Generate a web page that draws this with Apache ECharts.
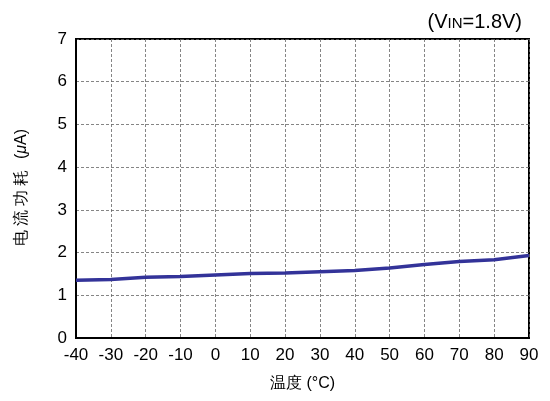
<!DOCTYPE html>
<html><head><meta charset="utf-8">
<script src="https://cdn.jsdelivr.net/npm/echarts@6/dist/echarts.min.js"></script>
<style>html,body{margin:0;padding:0;background:#fff}#c{width:550px;height:401px}</style>
</head><body><div id="c"></div>
<script>
var temps = [-40,-30,-20,-10,0,10,20,30,40,50,60,70,80,90];
var current = [1.35,1.37,1.42,1.44,1.475,1.51,1.52,1.55,1.58,1.64,1.72,1.79,1.83,1.93];
var chart = echarts.init(document.getElementById('c'));
var font = 'Liberation Sans, Arial, sans-serif';
chart.setOption({
  animation:false,
  title:{text:'(V{s|IN}=1.8V)', right:23, top:7,
    textStyle:{fontFamily:font,fontSize:20,fontWeight:'normal',color:'#000',
      rich:{s:{fontFamily:font,fontSize:15,color:'#000',verticalAlign:'bottom',padding:[0,0,1,0]}}}},
  grid:{left:76,right:21,top:39,bottom:63,show:true,borderColor:'#000',borderWidth:2},
  xAxis:{type:'value',min:-40,max:90,interval:10,
    name:'温度 (°C)',nameLocation:'middle',nameGap:38,
    nameTextStyle:{fontFamily:font,fontSize:16,color:'#000'},
    axisLine:{onZero:false,lineStyle:{color:'#000',width:2}},axisTick:{show:false},
    axisLabel:{fontFamily:font,fontSize:17,color:'#000',margin:9},
    splitLine:{show:true,lineStyle:{color:'#666',width:0.8,type:[3,2]}}},
  yAxis:{type:'value',min:0,max:7,interval:1,
    name:'{c|电}{c|流}{c|功}{c|耗}  ({i|μ}A)',nameLocation:'middle',nameGap:46,nameRotate:90,
    nameTextStyle:{fontFamily:font,fontSize:16,color:'#000',
      rich:{c:{fontFamily:font,fontSize:16,color:'#000',padding:[0,2,0,2]},
            i:{fontFamily:font,fontSize:16,fontStyle:'italic',color:'#000'}}},
    axisLine:{onZero:false,lineStyle:{color:'#000',width:2}},axisTick:{show:false},
    axisLabel:{fontFamily:font,fontSize:17,color:'#000',margin:9},
    splitLine:{show:true,lineStyle:{color:'#666',width:0.8,type:[3,2]}}},
  series:[{type:'line',data:temps.map(function(t,i){return [t,current[i]];}),
    showSymbol:false,lineStyle:{color:'#333399',width:3.5},itemStyle:{color:'#333399'}}]
});
</script></body></html>
